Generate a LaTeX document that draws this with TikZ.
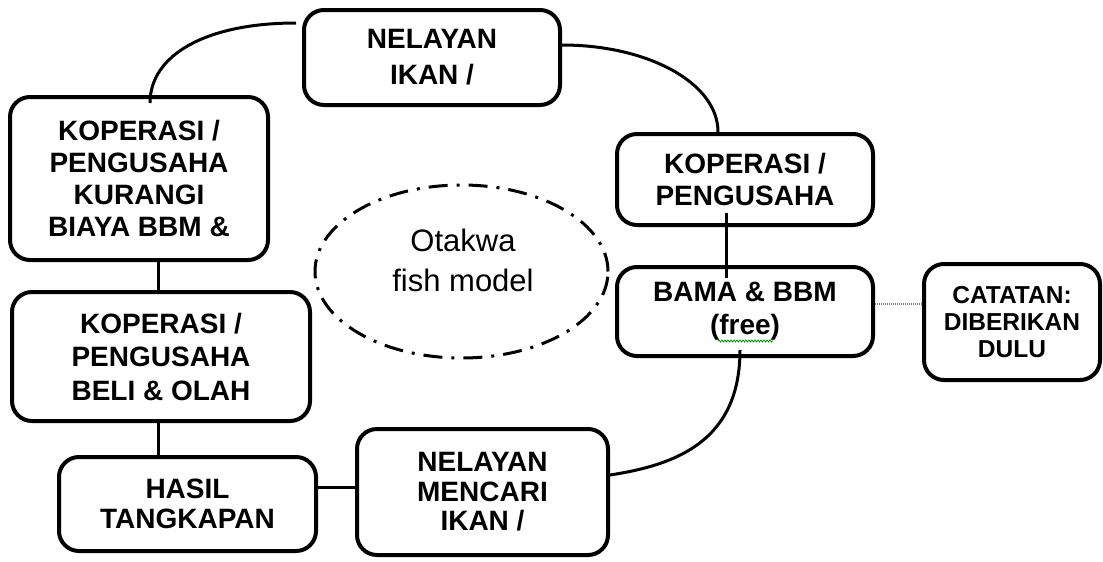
\documentclass[tikz,border=0pt]{standalone}
\usepackage{fontspec}
\setmainfont{Liberation Sans}
\usetikzlibrary{calc,shapes.geometric,decorations.pathmorphing}
\begin{document}
\begin{tikzpicture}[x=1pt,y=-1pt,
  box/.style={draw, line width=4pt, rounded corners=20pt, align=center, inner sep=0pt},
  bigtxt/.style={font=\fontsize{28}{#1}\selectfont\bfseries},
  link/.style={line width=3pt},
  note/.style={draw=gray, line width=1.2pt, dash pattern=on 1pt off 1pt},
]
\useasboundingbox (0,0) rectangle (1103,562);
\fill[white] (0,0) rectangle (1103,562);

% boxes
\node[box, bigtxt=36, minimum width=256pt, minimum height=95pt] (n1) at (432,57.5) {NELAYAN\\IKAN /};
\node[box, bigtxt=32, minimum width=258pt, minimum height=163pt] (k1) at (139,178.5) {KOPERASI /\\PENGUSAHA\\KURANGI\\BIAYA BBM \&};
\node[box, bigtxt=32, minimum width=256pt, minimum height=91pt] (k2) at (745,179.5) {KOPERASI /\\PENGUSAHA};
\node[box, bigtxt=33, minimum width=256pt, minimum height=89pt] (bama) at (745,311.5) {BAMA \& BBM\\(free)};
\node[box, font=\fontsize{24.5}{27}\selectfont\bfseries, minimum width=176pt, minimum height=116pt] (cat) at (1012,322) {CATATAN:\\DIBERIKAN\\DULU};
\node[box, bigtxt=33.5, minimum width=298pt, minimum height=129pt] (k3) at (161,356.5) {KOPERASI /\\PENGUSAHA\\BELI \& OLAH};
\node[box, bigtxt=30, minimum width=257pt, minimum height=94pt] (h) at (187.5,504) {HASIL\\TANGKAPAN};
\node[box, bigtxt=29.5, minimum width=251pt, minimum height=126pt] (n2) at (482.5,492) {NELAYAN\\MENCARI\\IKAN /};

% dash-dot oval with its label
\node[ellipse, draw, line width=3pt, dash pattern=on 19pt off 9pt on 3pt off 9pt,
      minimum width=293pt, minimum height=173pt, inner sep=0pt] (oval) at (461.5,271.5) {};
\node[font=\fontsize{31}{40}\selectfont, align=center] (otk) at (463,260) {Otakwa\\fish model};

% connectors
\draw[link] ($(n1.west)+(-6,-34.5)$) .. controls +(-90,0) and +(0,-48) .. ($(k1.north)+(11,8)$);
\draw[link] ($(n1.east)+(0,-12.5)$) .. controls +(86,0) and +(0,-49) .. ($(k2.north)+(-27,0)$);
\draw[link] ($(k2.south)+(-19,-14)$) -- ($(bama.north)+(-19,13)$);
\draw[link] ($(bama.south)+(-5,-8)$) .. controls +(0,92) and +(65,-10) .. ($(n2.east)+(0,-17)$);
\draw[link] ($(k1.south)+(19,0)$) -- ($(k3.north)+(-3,0)$);
\draw[link] ($(k3.south)+(-3,0)$) -- ($(h.north)+(-29.5,0)$);
\draw[link] ($(h.east)+(0,-17)$) -- ($(n2.west)+(0,-5)$);
\draw[note] ($(bama.east)+(0,-7.5)$) -- ($(cat.west)+(0,-18)$);

% spell-check squiggle under "free"
\draw[green!60!black, line width=0.8pt, decorate, decoration={snake, amplitude=1pt, segment length=3pt}]
  ($(bama.center)+(-27,29.5)$) -- ($(bama.center)+(28,29.5)$);
\end{tikzpicture}
\end{document}
